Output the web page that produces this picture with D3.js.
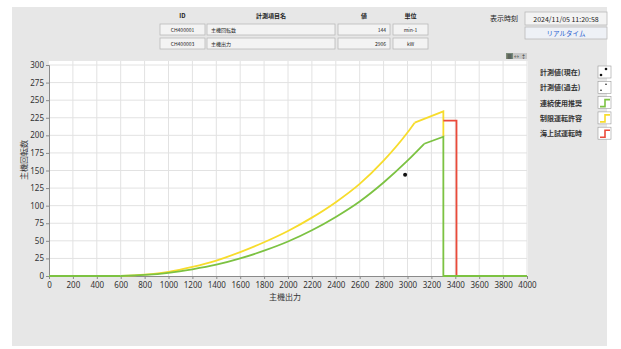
<!DOCTYPE html>
<html>
<head>
<meta charset="utf-8">
<script src="https://cdn.jsdelivr.net/npm/d3@7"></script>
<style>
  body { margin: 0; background: #fff; }
  svg { display: block; font-family: "Noto Sans CJK JP", "Noto Sans", sans-serif; }
</style>
</head>
<body>
<div id="chart"></div>
<script>
// x = 主機出力 (kW), y = 主機回転数 (min-1)
// smooth part of each curve, then the straight tail after the kink
const greenX = [600, 800, 1000, 1200, 1400, 1600, 1800, 2000, 2200, 2400, 2600, 2800, 3000, 3140];
const greenY = [0, 1.5, 4.5, 9.5, 16, 25, 36, 49, 65, 84, 106, 133, 164, 188];
const greenTailX = [3140, 3300, 3300, 4000];
const greenTailY = [188, 198, 0, 0];
const baseX = [0, 600];
const baseY = [0, 0];
const yellowX = [600, 800, 1000, 1200, 1400, 1600, 1800, 2000, 2200, 2400, 2600, 2800, 3000, 3060];
const yellowY = [0, 2, 6, 13, 22, 34, 48, 64, 83, 105, 131, 164, 204, 218];
const yellowTailX = [3060, 3300, 3300];
const yellowTailY = [218, 234, 198];
const redX = [3300, 3410, 3410];
const redY = [221, 221, 0];
const pointNow = [2980, 144];

const xTicks = d3.range(0, 4001, 200);
const yTicks = d3.range(0, 301, 25);

const tableHead = ["ID", "計測項目名", "値", "単位"];
const tableRows = [
  ["CH400001", "主機回転数", "144", "min-1"],
  ["CH400003", "主機出力", "2906", "kW"]
];
const legendLabels = ["計測値(現在)", "計測値(過去)", "連続使用推奨", "制限運転許容", "海上試運転時"];
const legendColors = [null, null, "#7cc242", "#f7dc2c", "#ea4a3a"];

const W = 621, H = 349;
const svg = d3.select("#chart").append("svg").attr("width", W).attr("height", H);

// panel
svg.append("rect").attr("x", 12).attr("y", 7).attr("width", 595).attr("height", 339).attr("fill", "#e7e7e7");

const x = d3.scaleLinear().domain([0, 4000]).range([49, 527]);
const y = d3.scaleLinear().domain([0, 300]).range([276, 65]);

// plot area
svg.append("rect").attr("x", 49).attr("y", 61).attr("width", 479).attr("height", 215).attr("fill", "#fff");

const grid = svg.append("g");
grid.selectAll(".vx").data(xTicks.slice(1)).enter().append("line")
  .attr("x1", d => x(d)).attr("x2", d => x(d)).attr("y1", 61).attr("y2", 276)
  .attr("stroke", "#e2e2e2").attr("stroke-width", 1);
grid.selectAll(".hy").data(yTicks.slice(1)).enter().append("line")
  .attr("y1", d => y(d)).attr("y2", d => y(d)).attr("x1", 49).attr("x2", 527)
  .attr("stroke", "#e2e2e2").attr("stroke-width", 1);

// axes
const xAxis = svg.append("g").attr("transform", "translate(0,276)")
  .call(d3.axisBottom(x).tickValues(xTicks).tickFormat(d3.format("d")).tickSize(3).tickPadding(3));
const yAxis = svg.append("g").attr("transform", "translate(49,0)")
  .call(d3.axisLeft(y).tickValues(yTicks).tickFormat(d3.format("d")).tickSize(3).tickPadding(2));
[xAxis, yAxis].forEach(a => {
  a.selectAll("path,line").attr("stroke", "#8a8a8a");
  a.selectAll("text").attr("fill", "#333").style("font-size", "8px").style("font-family", "Noto Sans, sans-serif");
});

svg.append("text").attr("x", 285).attr("y", 300).attr("text-anchor", "middle")
  .style("font-size", "8px").attr("fill", "#333").text("主機出力");
svg.append("text").attr("transform", "translate(27,160) rotate(-90)").attr("text-anchor", "middle")
  .style("font-size", "8px").attr("fill", "#333").text("主機回転数");

// curves
const pts = (xs, ys) => xs.map((v, i) => [v, ys[i]]);
const smooth = d3.line().x(d => x(d[0])).y(d => y(d[1])).curve(d3.curveMonotoneX);
const straight = d3.line().x(d => x(d[0])).y(d => y(d[1]));
const draw = (data, gen, c) => svg.append("path").datum(data)
  .attr("d", gen).attr("fill", "none").attr("stroke", c).attr("stroke-width", 1.8);

draw(pts(yellowX, yellowY), smooth, legendColors[3]);
draw(pts(yellowTailX, yellowTailY), straight, legendColors[3]);
draw(pts(redX, redY), straight, legendColors[4]);
draw(pts(baseX, baseY), straight, legendColors[2]);
draw(pts(greenX, greenY), smooth, legendColors[2]);
draw(pts(greenTailX, greenTailY), straight, legendColors[2]);

svg.append("circle").attr("cx", x(pointNow[0])).attr("cy", y(pointNow[1])).attr("r", 2).attr("fill", "#111");

// small buttons over plot
const btn = svg.append("g");
["\u25a6", "\u2194", "\u2195"].forEach((t, i) => {
  btn.append("rect").attr("x", 506 + i * 7).attr("y", 53).attr("width", 7).attr("height", 6)
    .attr("fill", i === 0 ? "#7a8a7a" : "#c8c8c8");
  btn.append("text").attr("x", 509.5 + i * 7).attr("y", 58.3).attr("text-anchor", "middle")
    .style("font-size", "5px").attr("fill", "#333").text(t);
});

// header table
const colX = [160, 207, 338, 393];
const colW = [45, 128, 52, 35];
const head = svg.append("g").style("font-size", "6px").attr("fill", "#222");
tableHead.forEach((h, i) => {
  head.append("text").attr("x", colX[i] + colW[i] / 2).attr("y", 18).attr("text-anchor", "middle")
    .style("font-weight", "bold").text(h);
});
tableRows.forEach((r, j) => {
  const ry = 24 + j * 14;
  r.forEach((v, i) => {
    head.append("rect").attr("x", colX[i]).attr("y", ry).attr("width", colW[i]).attr("height", 11)
      .attr("fill", "#f3f3f3").attr("stroke", "#b9b9b9").attr("stroke-width", 0.8);
    const anchor = i === 0 || i === 3 ? "middle" : (i === 2 ? "end" : "start");
    const tx = i === 0 || i === 3 ? colX[i] + colW[i] / 2 : (i === 2 ? colX[i] + colW[i] - 4 : colX[i] + 4);
    head.append("text").attr("x", tx).attr("y", ry + 8).attr("text-anchor", anchor).style("font-size", "5px").text(v);
  });
});

// time display
svg.append("text").attr("x", 490).attr("y", 21).attr("text-anchor", "start")
  .style("font-size", "7px").attr("fill", "#222").text("表示時刻");
svg.append("rect").attr("x", 525).attr("y", 12).attr("width", 82).attr("height", 13)
  .attr("fill", "#f3f3f3").attr("stroke", "#b9b9b9").attr("stroke-width", 0.8);
svg.append("text").attr("x", 566).attr("y", 21.5).attr("text-anchor", "middle")
  .style("font-size", "7px").attr("fill", "#222").text("2024/11/05 11:20:58");
svg.append("rect").attr("x", 525).attr("y", 27).attr("width", 82).attr("height", 12)
  .attr("fill", "#eef1f6").attr("stroke", "#b9b9b9").attr("stroke-width", 0.8);
svg.append("text").attr("x", 566).attr("y", 36).attr("text-anchor", "middle")
  .style("font-size", "6.5px").attr("fill", "#2a5ccf").text("リアルタイム");

// legend
const leg = svg.append("g");
legendLabels.forEach((l, i) => {
  const ly = 72 + i * 15.3;
  leg.append("text").attr("x", 540).attr("y", ly + 3).style("font-size", "7px")
    .style("font-weight", "bold").attr("fill", "#333").text(l);
  leg.append("rect").attr("x", 598).attr("y", ly - 6).attr("width", 13).attr("height", 12)
    .attr("fill", "#fff").attr("stroke", "#999").attr("stroke-width", 0.6);
  if (legendColors[i]) {
    leg.append("path").attr("d", `M600,${ly + 4}H605V${ly - 3}H610`)
      .attr("fill", "none").attr("stroke", legendColors[i]).attr("stroke-width", 1.6);
  } else {
    const r = i === 0 ? 1.3 : 0.8;
    leg.append("circle").attr("cx", 606).attr("cy", ly - 3).attr("r", r).attr("fill", "#111");
    leg.append("circle").attr("cx", 601).attr("cy", ly + 3).attr("r", r).attr("fill", "#111");
  }
});
</script>
</body>
</html>
